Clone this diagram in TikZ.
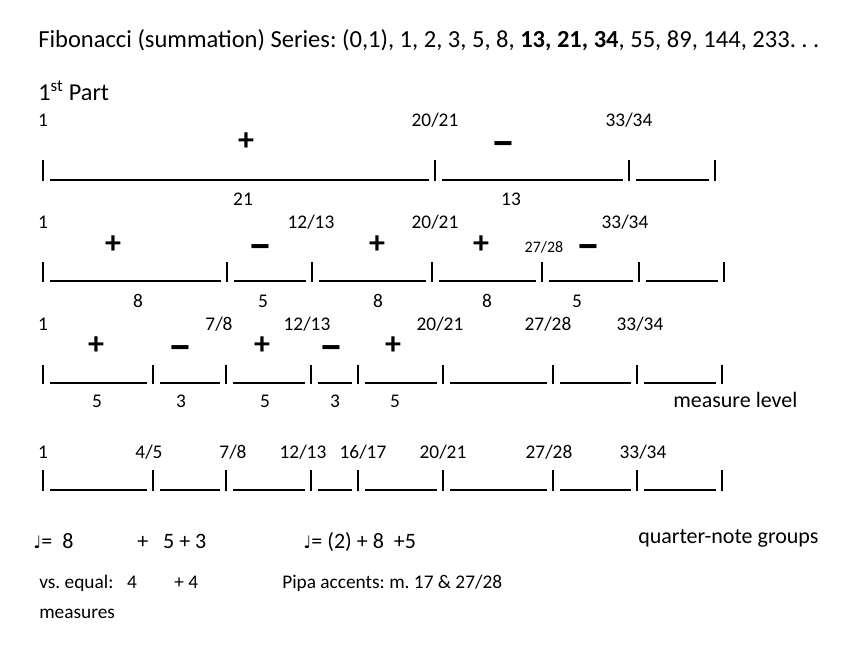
\documentclass[tikz,border=0pt]{standalone}
\usepackage{fontspec}
\setmainfont{Carlito}
\newfontfamily\notefont{DejaVu Sans}
\usepackage{tikz}
\usetikzlibrary{positioning}
\frenchspacing

\begin{document}
\begin{tikzpicture}[
    x=0.75pt, y=-0.75pt,
    every node/.style={inner sep=0pt, anchor=base},
    rule/.style={line width=1.4pt},
    lbl/.style={font=\fontsize{14.5}{17}\selectfont},
    tiny/.style={font=\fontsize{12}{14}\selectfont},
    big/.style={font=\fontsize{16.5}{19}\selectfont},
    sign/.style={font=\fontsize{24}{28}\selectfont\bfseries},
    minus/.style={font=\fontsize{33}{36}\selectfont\bfseries, text height=12pt, text depth=0pt}
]
    \useasboundingbox (0,0) rectangle (850,654);

    % Title
    \node[anchor=base west, font=\fontsize{18.4}{22}\selectfont] (title) at (38,47)
        {Fibonacci (summation) Series: (0,1), 1, 2, 3, 5, 8, \textbf{13, 21, 34}, 55, 89, 144, 233. . .};
    \node[anchor=base west, font=\fontsize{18.2}{22}\selectfont] (part) at (38,100) {1\textsuperscript{st} Part};

    % Row 1
    \foreach \x in {43, 435, 629, 715} \draw[rule] (\x,160) -- (\x,181);
    \foreach \a/\b in {43/435, 435/629, 629/715} \draw[rule] (\a+7,180) -- (\b-6,180);
    \node[lbl] (a1) at (43,126) {1};
    \node[lbl] (a2) at (435,126) {20/21};
    \node[lbl] (a3) at (629,126) {33/34};
    \node[sign] (as1) at (246,150) {+};
    \node[minus] (as2) at (503,157) {−};
    \node[lbl] (an1) at (243,205) {21};
    \node[lbl] (an2) at (511,205) {13};

    % Row 2
    \foreach \x in {43, 227, 312, 432, 542, 639, 724} \draw[rule] (\x,262) -- (\x,282);
    \foreach \a/\b in {43/227, 227/312, 312/432, 432/542, 542/639, 639/724} \draw[rule] (\a+7,281) -- (\b-6,281);
    \node[lbl] (b1) at (43,228) {1};
    \node[lbl] (b2) at (311,228) {12/13};
    \node[lbl] (b3) at (435,228) {20/21};
    \node[tiny] (b4) at (544,252) {27/28};
    \node[lbl] (b5) at (625,228) {33/34};
    \node[sign] (bs1) at (113,253) {+};
    \node[minus] (bs2) at (260,260) {−};
    \node[sign] (bs3) at (377,253) {+};
    \node[sign] (bs4) at (481,253) {+};
    \node[minus] (bs5) at (588,260) {−};
    \node[lbl] (bn1) at (138,307) {8};
    \node[lbl] (bn2) at (263,307) {5};
    \node[lbl] (bn3) at (378,307) {8};
    \node[lbl] (bn4) at (487,307) {8};
    \node[lbl] (bn5) at (577,307) {5};

    % Row 3 (measure level)
    \foreach \x in {43, 153, 226, 311, 358, 443, 553, 637, 722} \draw[rule] (\x,365) -- (\x,384);
    \foreach \a/\b in {43/153, 153/226, 226/311, 311/358, 358/443, 443/553, 553/637, 637/722}
        \draw[rule] (\a+7,383) -- (\b-6,383);
    \node[lbl] (c1) at (43,330) {1};
    \node[lbl] (c2) at (219,330) {7/8};
    \node[lbl] (c3) at (307,330) {12/13};
    \node[lbl] (c4) at (440,330) {20/21};
    \node[lbl] (c5) at (548,330) {27/28};
    \node[lbl] (c6) at (640,330) {33/34};
    \node[sign] (cs1) at (96,354) {+};
    \node[minus] (cs2) at (180,361) {−};
    \node[sign] (cs3) at (262,354) {+};
    \node[minus] (cs4) at (331,361) {−};
    \node[sign] (cs5) at (393,354) {+};
    \node[lbl] (cn1) at (97,407) {5};
    \node[lbl] (cn2) at (181,407) {3};
    \node[lbl] (cn3) at (265,407) {5};
    \node[lbl] (cn4) at (335,407) {3};
    \node[lbl] (cn5) at (395,407) {5};
    \node[anchor=base west, big] (mlevel) at (673,407) {measure level};

    % Row 4
    \foreach \x in {43, 153, 226, 311, 358, 443, 553, 637, 722} \draw[rule] (\x,470) -- (\x,491);
    \foreach \a/\b in {43/153, 153/226, 226/311, 311/358, 358/443, 443/553, 553/637, 637/722}
        \draw[rule] (\a+7,490) -- (\b-6,490);
    \node[lbl] (d1) at (43,458) {1};
    \node[lbl] (d2) at (149,458) {4/5};
    \node[lbl] (d3) at (233,458) {7/8};
    \node[lbl] (d4) at (303,458) {12/13};
    \node[lbl] (d5) at (363,458) {16/17};
    \node[lbl] (d6) at (443,458) {20/21};
    \node[lbl] (d7) at (549,458) {27/28};
    \node[lbl] (d8) at (643,458) {33/34};

    % Groups
    \node[anchor=base west, big] (qa) at (33,548) {{\notefont\fontsize{13}{15}\selectfont ♩}=\ \ 8};
    \node[anchor=base west, big] (qb) at (137,548) {+\ \ \ 5 + 3};
    \node[anchor=base west, big] (qc) at (303,548) {{\notefont\fontsize{13}{15}\selectfont ♩}=\ (2) + 8\ \ +5};
    \node[anchor=base west, big] (qgroups) at (638,543) {quarter-note groups};
    \node[anchor=base west, lbl] (equal) at (39,588) {vs. equal:};
    \node[lbl] (eq4) at (132,588) {4};
    \node[anchor=base west, lbl] (eqplus) at (174,588) {+ 4};
    \node[anchor=base west, lbl] (pipa) at (282,588) {Pipa accents: m. 17 \& 27/28};
    \node[anchor=base west, lbl] (meas) at (39,618) {measures};

\end{tikzpicture}
\end{document}
